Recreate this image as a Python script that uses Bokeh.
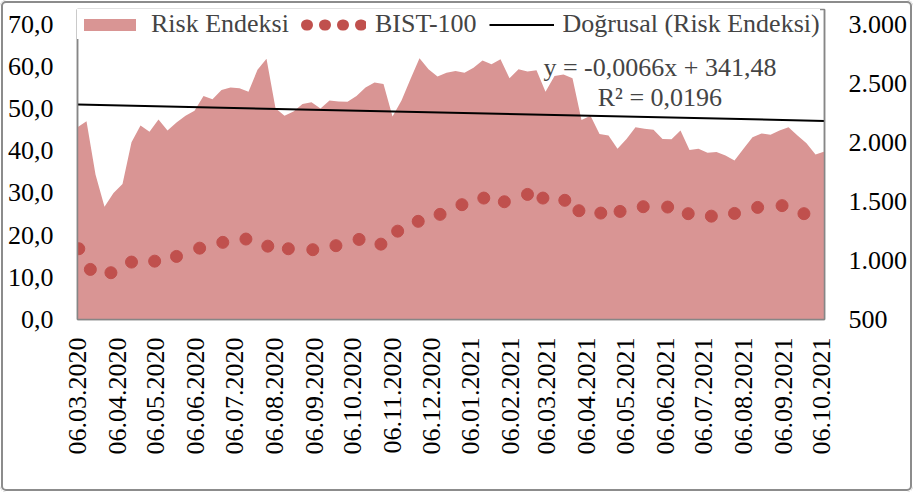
import math
import numpy as np
import pandas as pd
from bokeh.plotting import figure
from bokeh.models import (Range1d, LinearAxis, FixedTicker, Legend, LegendItem,
                          Label, ColumnDataSource)
from bokeh.embed import file_html
from bokeh.resources import INLINE

# ---------------- data ----------------
START_DATE = "06.03.2020"          # first weekly observation of the risk index
risk_values = [45.6, 47.0, 34.4, 26.7, 30.0, 32.1, 42.0, 46.0, 44.5, 47.4,
               44.8, 46.7, 48.3, 49.5, 53.0, 52.2, 54.4, 55.0, 54.8, 54.0,
               59.2, 61.8, 50.1, 48.3, 49.3, 51.1, 51.5, 50.0, 51.9, 51.7,
               51.6, 53.0, 55.0, 56.2, 55.8, 48.1, 51.9, 57.0, 61.9, 59.3,
               57.6, 58.5, 58.9, 58.5, 59.7, 61.4, 60.5, 61.7, 57.2, 59.3,
               58.8, 59.1, 54.0, 57.7, 58.1, 57.2, 47.3, 48.3, 44.0, 43.6,
               40.5, 42.8, 45.6, 45.2, 45.0, 42.8, 42.7, 44.8, 40.2, 40.5,
               39.5, 39.7, 38.9, 37.7, 40.5, 43.2, 44.1, 43.8, 44.8, 45.6,
               43.6, 41.8, 39.1, 39.8]

bist_dates = ["07.03.2020", "16.03.2020", "01.04.2020", "17.04.2020", "05.05.2020",
              "22.05.2020", "09.06.2020", "27.06.2020", "15.07.2020", "01.08.2020",
              "17.08.2020", "05.09.2020", "23.09.2020", "11.10.2020", "28.10.2020",
              "10.11.2020", "26.11.2020", "13.12.2020", "30.12.2020", "16.01.2021",
              "01.02.2021", "19.02.2021", "03.03.2021", "20.03.2021", "31.03.2021",
              "17.04.2021", "02.05.2021", "20.05.2021", "08.06.2021", "24.06.2021",
              "12.07.2021", "30.07.2021", "17.08.2021", "05.09.2021", "22.09.2021"]
bist_values = [1099, 924, 896, 986, 994, 1034, 1104, 1153, 1181, 1121,
               1099, 1091, 1125, 1178, 1138, 1248, 1331, 1390, 1472, 1528,
               1497, 1559, 1528, 1509, 1421, 1401, 1415, 1455, 1452, 1396,
               1375, 1398, 1449, 1464, 1396]

x_tick_labels = ["06.03.2020", "06.04.2020", "06.05.2020", "06.06.2020", "06.07.2020",
                 "06.08.2020", "06.09.2020", "06.10.2020", "06.11.2020", "06.12.2020",
                 "06.01.2021", "06.02.2021", "06.03.2021", "06.04.2021", "06.05.2021",
                 "06.06.2021", "06.07.2021", "06.08.2021", "06.09.2021", "06.10.2021"]
left_ticks = [0, 10, 20, 30, 40, 50, 60, 70]
right_ticks = [500, 1000, 1500, 2000, 2500, 3000]

eq_text = "y = -0,0066x + 341,48"
r2_text = "R² = 0,0196"

series_names = ["Risk Endeksi", "BIST-100", "Doğrusal (Risk Endeksi)"]

# ---------------- derived ----------------
def to_date(s):
    return pd.to_datetime(s, format="%d.%m.%Y")

t0 = to_date(START_DATE)
risk_dates = pd.date_range(t0, periods=len(risk_values), freq="7D")
risk_x = [int((d - t0).days) for d in risk_dates]
bist_x = [int((to_date(s) - t0).days) for s in bist_dates]
tick_x = [int((to_date(s) - t0).days) for s in x_tick_labels]

# linear trend (least squares) of the risk index
slope, intercept = np.polyfit(risk_x, risk_values, 1)
trend_x = [risk_x[0], risk_x[-1]]
trend_y = [slope * x + intercept for x in trend_x]

FONT = "Liberation Serif"
FS = "26px"
GRAY = "#868686"
AREA = "#D99594"
DOT = "#C0504D"

# layout: the axes' top tick sits 14.7 px below the frame top (legend overlaps there)
AXIS_PX = 295.3          # pixels between the bottom tick and the top tick
EXTRA_PX = 14.7
L_LO, L_HI = left_ticks[0], left_ticks[-1]
R_LO, R_HI = right_ticks[0], right_ticks[-1]
l_top = L_HI + (L_HI - L_LO) * EXTRA_PX / AXIS_PX
r_top = R_HI + (R_HI - R_LO) * EXTRA_PX / AXIS_PX

p = figure(width=913, height=492, output_backend="svg", toolbar_location=None,
           x_range=Range1d(risk_x[0], risk_x[-1]), y_range=Range1d(L_LO, l_top),
           min_border_left=77, min_border_right=89, min_border_top=9,
           min_border_bottom=173)
p.styles = {"box-shadow": "inset 0 0 0 1px #ffffff, inset 0 0 0 3px #8c8c8c",
            "border-radius": "6px", "background-color": "white"}
p.extra_y_ranges = {"bist": Range1d(R_LO, r_top)}
p.grid.visible = False
p.background_fill_color = "white"
p.border_fill_alpha = 0
p.outline_line_color = GRAY
p.outline_line_width = 1.5

area_src = ColumnDataSource(dict(x=risk_x, y=risk_values))
area = p.varea(x="x", y1=0, y2="y", source=area_src, fill_color=AREA)
trend = p.line(trend_x, trend_y, line_color="black", line_width=2)
p.scatter(bist_x, bist_values, size=12, color=DOT, y_range_name="bist")
# legend-only glyph: a dotted stroke that shows the marker series as a row of dots
dummy = p.line([np.nan, np.nan], [np.nan, np.nan], line_color=DOT, line_width=11,
               line_dash="1 17", line_dash_offset=-5, line_cap="round",
               y_range_name="bist")

def style_axis(ax):
    ax.major_tick_out = 0
    ax.major_tick_in = 0
    ax.minor_tick_out = 0
    ax.minor_tick_in = 0
    ax.axis_line_color = GRAY
    ax.axis_line_width = 1.5
    ax.major_label_text_font = FONT
    ax.major_label_text_font_size = FS
    ax.major_label_text_color = "black"

xa = p.xaxis[0]
xa.ticker = FixedTicker(ticks=tick_x)
xa.major_label_overrides = {x: lab for x, lab in zip(tick_x, x_tick_labels)}
xa.major_label_orientation = math.pi / 2
style_axis(xa)
xa.major_label_standoff = 18

ya = p.yaxis[0]
ya.ticker = FixedTicker(ticks=left_ticks)
ya.major_label_overrides = {v: f"{v:.1f}".replace(".", ",") for v in left_ticks}
style_axis(ya)
ya.major_label_standoff = 24

ra = LinearAxis(y_range_name="bist", ticker=FixedTicker(ticks=right_ticks))
ra.major_label_overrides = {v: f"{v:,}".replace(",", ".") for v in right_ticks}
style_axis(ra)
ra.major_label_standoff = 24
p.add_layout(ra, "right")

legend = Legend(items=[LegendItem(label=series_names[0], renderers=[area]),
                       LegendItem(label=series_names[1], renderers=[dummy]),
                       LegendItem(label=series_names[2], renderers=[trend])],
                location=(0, 280), orientation="horizontal",
                glyph_width=65, glyph_height=15, label_standoff=9, spacing=12,
                padding=0, margin=0, border_line_alpha=0,
                background_fill_color="white", background_fill_alpha=1,
                label_text_font=FONT, label_text_font_size=FS)
p.add_layout(legend)

p.add_layout(Label(x=453, y=59.7, text=eq_text, text_align="center",
                   text_baseline="middle", text_font=FONT, text_font_size=FS))
p.add_layout(Label(x=453, y=52.6, text=r2_text, text_align="center",
                   text_baseline="middle", text_font=FONT, text_font_size=FS))

open("out.html", "w").write(file_html(p, INLINE))
